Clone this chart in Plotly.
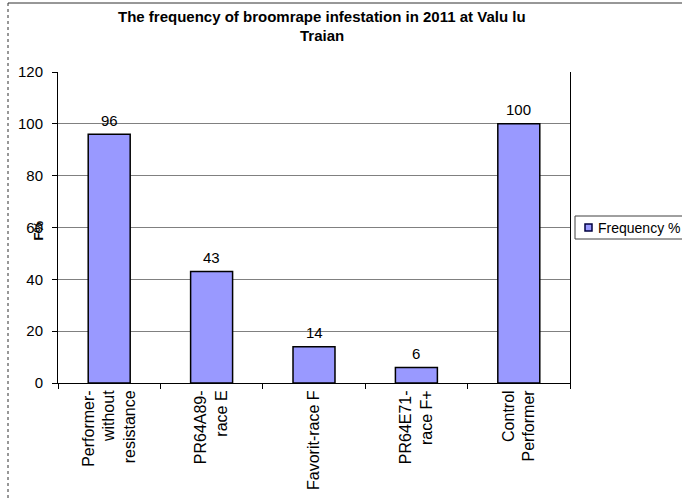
import plotly.graph_objects as go

categories = ["Performer-<br>without<br>resistance", "PR64A89-<br>race E", "Favorit-race F",
              "PR64E71-<br>race F+", "Control<br>Performer"]
values = [96, 43, 14, 6, 100]
series_name = "Frequency %"
y_ticks = [0, 20, 40, 60, 80, 100, 120]
title_lines = ["The frequency of broomrape infestation in 2011 at Valu lu", "Traian"]

FONT = "Liberation Sans, Arial"
W, H = 682, 501
L, R, T, B = 58, 112, 72, 118
pw = W - L - R
ph = H - T - B


def px(x):
    return (x - L) / pw


def py(y):
    return (H - B - y) / ph


fig = go.Figure()
fig.add_trace(go.Bar(
    x=categories, y=values, name=series_name,
    marker=dict(color="#9999FF", line=dict(color="black", width=1.5)),
    width=0.41, showlegend=False,
))
for c, v in zip(categories, values):
    fig.add_annotation(x=c, y=v, text=str(v), showarrow=False, yshift=14, yanchor="middle",
                       font=dict(family=FONT, size=15, color="black"))

fig.update_layout(
    width=W, height=H,
    margin=dict(l=L, r=R, t=T, b=B),
    paper_bgcolor="white", plot_bgcolor="white",
    font=dict(family=FONT, size=15, color="black"),
    showlegend=False,
)
fig.update_yaxes(range=[0, 120], tickvals=y_ticks, showgrid=True, gridcolor="#808080", gridwidth=1,
                 showline=True, linecolor="black", linewidth=1, mirror=True,
                 ticks="outside", ticklen=5, tickcolor="black", ticklabelstandoff=6,
                 tickfont=dict(family=FONT, size=15), zeroline=False)
fig.update_xaxes(showline=True, linecolor="black", linewidth=1, tickson="boundaries",
                 ticks="outside", ticklen=5, tickcolor="black", tickangle=-90,
                 tickfont=dict(family=FONT, size=16))

# title (two lines)
for txt, yy in zip(title_lines, [16, 35]):
    fig.add_annotation(text="<b>" + txt + "</b>", xref="paper", yref="paper",
                       x=px(322), y=py(yy), xanchor="center", yanchor="middle", showarrow=False,
                       font=dict(family=FONT, size=15, color="black"))

# y axis title
fig.add_annotation(text="<b>F%</b>", xref="paper", yref="paper",
                   x=px(28), y=py(231), textangle=-90, showarrow=False,
                   font=dict(family=FONT, size=13, color="black"))

# legend (drawn by hand)
fig.add_shape(type="rect", xref="paper", yref="paper",
              x0=px(575), x1=px(695), y0=py(239), y1=py(216),
              line=dict(color="#404040", width=1), fillcolor="white")
fig.add_shape(type="rect", xref="paper", yref="paper",
              x0=px(585), x1=px(592), y0=py(231), y1=py(224),
              line=dict(color="#000040", width=1.5), fillcolor="#9999FF")
fig.add_annotation(text=series_name, xref="paper", yref="paper",
                   x=px(596), y=py(228), xanchor="left", yanchor="middle", showarrow=False,
                   font=dict(family=FONT, size=14, color="black"))

# outer chart border (top solid, left dotted)
fig.add_shape(type="line", xref="paper", yref="paper",
              x0=px(8), x1=px(682), y0=py(3), y1=py(3),
              line=dict(color="#303030", width=1))
fig.add_shape(type="line", xref="paper", yref="paper",
              x0=px(8), x1=px(8), y0=py(3), y1=py(501),
              line=dict(color="#303030", width=1, dash="dot"))

fig.write_html("out.html")
